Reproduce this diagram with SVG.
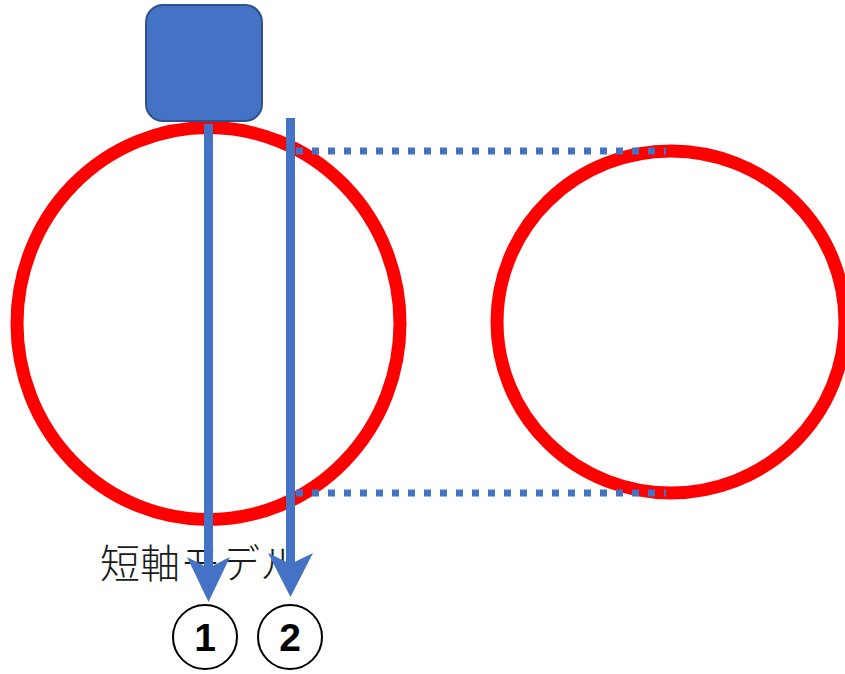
<svg xmlns="http://www.w3.org/2000/svg" width="845" height="674" viewBox="0 0 845 674">
  <style>
    .ring { fill: none; stroke: #FF0000; stroke-width: 13; }
    .axis { stroke: #4472C4; stroke-width: 9; fill: none; }
    .dots { stroke: #4472C4; stroke-width: 7; stroke-dasharray: 7 9; fill: none; }
    .head { fill: #4472C4; }
    .badge { fill: #FFFFFF; stroke: #000000; stroke-width: 2; }
    .num { font-family: "Liberation Sans", Arial, sans-serif; font-weight: bold; font-size: 39px; fill: #000000; text-anchor: middle; }
    .label { font-family: "Noto Sans CJK JP", "Noto Sans", sans-serif; font-weight: 300; font-size: 40px; fill: #1A1A1A; }
  </style>
  <rect width="845" height="674" fill="#FFFFFF"/>

  <!-- cross-section rings -->
  <g id="ring-left"><ellipse class="ring" cx="208.5" cy="323.5" rx="191.5" ry="196"/></g>
  <g id="ring-right"><ellipse class="ring" cx="671" cy="322" rx="174" ry="171"/></g>

  <!-- probe block -->
  <g id="probe"><rect x="146" y="5" width="116" height="116" rx="17" ry="17" fill="#4472C4" stroke="#2F528F" stroke-width="2"/></g>

  <!-- label -->
  <g id="label"><text class="label" x="100" y="578">短軸モデル</text></g>

  <!-- connectors: scan lines and projection guides -->
  <g id="connectors">
    <line class="dots" x1="296" y1="151" x2="666" y2="151"/>
    <line class="dots" x1="296" y1="493" x2="666" y2="493"/>
    <line class="axis" x1="208.5" y1="124" x2="208.5" y2="575"/>
    <polygon class="head" points="187,557 208.5,568 230,557 208.5,602"/>
    <line class="axis" x1="290.5" y1="118" x2="290.5" y2="570"/>
    <polygon class="head" points="268,553 290.5,564 313,553 290.5,597"/>
  </g>

  <!-- numbered markers -->
  <g id="marker-1">
    <circle class="badge" cx="205" cy="637" r="32"/>
    <text class="num" x="205" y="651">1</text>
  </g>
  <g id="marker-2">
    <circle class="badge" cx="290" cy="637" r="32"/>
    <text class="num" x="290" y="651">2</text>
  </g>
</svg>
